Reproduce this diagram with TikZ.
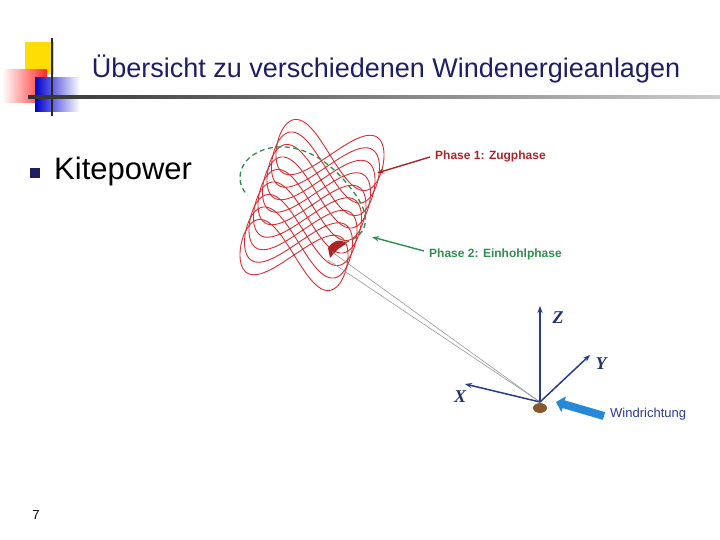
\documentclass[tikz,border=0pt]{standalone}
\usepackage{fontspec}
\setmainfont{Liberation Sans}
\newfontfamily\serifit{Liberation Serif}
\usetikzlibrary{arrows.meta}
\definecolor{navy}{RGB}{30,30,100}
\definecolor{kitered}{RGB}{215,45,50}
\definecolor{pgreen}{RGB}{50,140,80}
\definecolor{axblue}{RGB}{40,60,140}
\tikzset{
  lbl/.style={font=\bfseries\fontsize{12}{13}\selectfont, inner sep=0pt, anchor=west},
  axis/.style={axblue, line width=1.5pt, -{Stealth[length=7pt]}},
  axl/.style={font=\serifit\bfseries\itshape\fontsize{18}{18}\selectfont, text=axblue!80!black},
}
\begin{document}
\begin{tikzpicture}[x=1pt,y=-1pt]
\useasboundingbox (0,0) rectangle (720,540);
% logo
\fill[yellow!80!orange] (25,42) rectangle (54,74);
\shade[left color=white, right color=red!85] (2,70) rectangle (47,103);
\shade[left color=blue!80!black, right color=white] (35,78) rectangle (80,112);
\draw[line width=2.5pt, black!85] (52,38) -- (52,116);
\shade[left color=black!80, right color=black!20] (28,96) rectangle (720,99);
\node[font=\fontsize{27}{30}\selectfont, text=navy] (title) at (386,69) {Übersicht zu verschiedenen Windenergieanlagen};
% bullet
\fill[navy] (30,168) rectangle (40,178);
\node[font=\fontsize{31}{34}\selectfont, anchor=west, inner sep=0pt] (kp) at (54,171) {Kitepower};
\node[font=\fontsize{13}{14}\selectfont] (pg) at (36,515) {7};
% kite loops
\foreach \i in {0,...,8}{
  \draw[kitered, line width=0.9pt, smooth, domain=0:360, samples=90]
    plot ({330-4.5*\i + 54*sin(\x)*cos(-12) - 28*sin(2*\x)*sin(-12)},
          {155+12.5*\i - 54*sin(\x)*sin(-12) - 28*sin(2*\x)*cos(-12)});
}
% green dashed return path
\draw[pgreen, line width=1.3pt, dash pattern=on 5pt off 3.5pt]
  (336,245) .. controls (372,238) and (372,215) .. (352,190)
  .. controls (330,160) and (300,142) .. (270,148)
  .. controls (235,156) and (235,185) .. (248,195);
\fill[kitered!80!black] (328,248) .. controls (333,240) and (342,238) .. (346,244) -- (338,249) -- (330,258) -- cycle;
% ground and axes
\coordinate (O) at (540,402);
\draw[black!40, line width=0.6pt] (332,252) -- (O);
\draw[black!40, line width=0.6pt] (328,260) -- (O);
\fill[brown!70!black] (540,408) ellipse (7 and 5);
\draw[axis] (O) -- (540,306) coordinate (zt);
\draw[axis] (O) -- (590,355) coordinate (yt);
\draw[axis] (O) -- (465,384) coordinate (xt);
\node[axl] (Z) at (558,318) {Z};
\node[axl] (Y) at (601,364) {Y};
\node[axl] (X) at (460,397) {X};
\draw[-{Triangle[length=8pt,width=16pt]}, line width=8pt, blue!45!cyan!70!gray] (604,416) -- (556,402);
\node[font=\fontsize{13}{14}\selectfont, text=axblue, anchor=west, inner sep=0pt] (wind) at (610,414) {Windrichtung};
% phase labels
\node[lbl, text=kitered!80!black] (p1) at (435,156) {Phase 1: Zugphase};
\node[lbl, text=pgreen] (p2) at (429,254) {Phase 2: Einhohlphase};
\coordinate (p1t) at (377,173);
\coordinate (p2t) at (372,237);
\draw[kitered!80!black, line width=1.4pt, -{Stealth[length=7pt]}] (p1.west) ++(-5,1) -- (p1t);
\draw[pgreen, line width=1.4pt, -{Stealth[length=7pt]}] (p2.west) ++(-5,-3) -- (p2t);
\end{tikzpicture}
\end{document}
